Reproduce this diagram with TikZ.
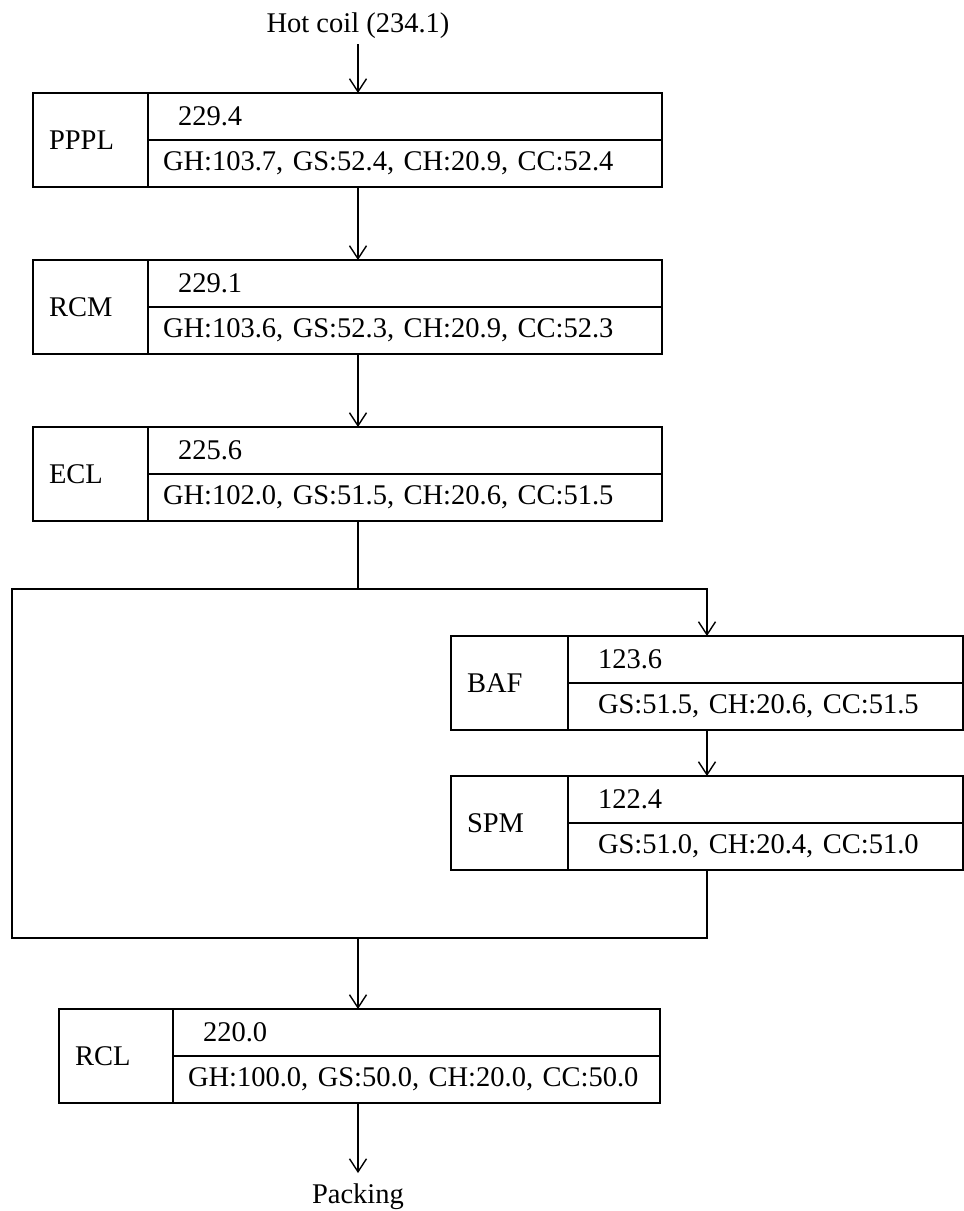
\documentclass[tikz,border=0pt]{standalone}
\usepackage{fontspec}
\setmainfont{Liberation Serif}
\usetikzlibrary{arrows.meta,positioning,calc}

\begin{document}
\begin{tikzpicture}[
  x=1pt,y=-1pt,
  font=\fontsize{28.5}{34}\selectfont,
  cellbase/.style={draw,line width=1.4pt,anchor=north west,align=left,
               inner ysep=0pt,outer sep=0pt},
  namecell/.style={cellbase,inner xsep=16pt,text width=#1,
               minimum height=94pt},
  valcell/.style={cellbase,inner xsep=30pt,text width=#1,
               minimum height=47pt},
  compcell/.style={cellbase,inner xsep=15pt,text width=#1,
               minimum height=47pt},
  flow/.style={line width=1.4pt},
  arr/.style={flow,-{Straight Barb[length=13pt,width=17pt,line width=1.4pt]}}
]
\useasboundingbox (0,0) rectangle (964,1211);

% input and output
\node[anchor=base,inner ysep=6pt] (coil) at (358,32) {Hot coil (234.1)};
\node[anchor=base,inner ysep=10pt] (packing) at (358,1203) {Packing};

% main line
\node[namecell=83pt] (pppl) at (33,93) {PPPL};
\node[valcell=454pt] (pppl-v) at (pppl.north east) {229.4};
\node[compcell=484pt] (pppl-c) at (pppl-v.south west)
  {GH:103.7, GS:52.4, CH:20.9, CC:52.4};

\node[namecell=83pt] (rcm) at (33,260) {RCM};
\node[valcell=454pt] (rcm-v) at (rcm.north east) {229.1};
\node[compcell=484pt] (rcm-c) at (rcm-v.south west)
  {GH:103.6, GS:52.3, CH:20.9, CC:52.3};

\node[namecell=83pt] (ecl) at (33,427) {ECL};
\node[valcell=454pt] (ecl-v) at (ecl.north east) {225.6};
\node[compcell=484pt] (ecl-c) at (ecl-v.south west)
  {GH:102.0, GS:51.5, CH:20.6, CC:51.5};

% side branch
\node[namecell=85pt] (baf) at (451,636) {BAF};
\node[valcell=335pt] (baf-v) at (baf.north east) {123.6};
\node[compcell=335pt,inner xsep=30pt] (baf-c) at (baf-v.south west)
  {GS:51.5, CH:20.6, CC:51.5};

\node[namecell=85pt] (spm) at (451,776) {SPM};
\node[valcell=335pt] (spm-v) at (spm.north east) {122.4};
\node[compcell=335pt,inner xsep=30pt] (spm-c) at (spm-v.south west)
  {GS:51.0, CH:20.4, CC:51.0};

\node[namecell=82pt] (rcl) at (59,1009) {RCL};
\node[valcell=427pt] (rcl-v) at (rcl.north east) {220.0};
\node[compcell=457pt] (rcl-c) at (rcl-v.south west)
  {GH:100.0, GS:50.0, CH:20.0, CC:50.0};

% split and merge points
\coordinate (split) at (358,589);
\coordinate (merge) at (358,938);
\coordinate (branch) at (707,589);
\coordinate (join) at (707,938);
\coordinate (bypass-t) at (12,589);
\coordinate (bypass-b) at (12,938);

\draw[arr] (coil) -- (coil |- pppl-v.north);
\draw[arr] (pppl-c.south -| split) -- (rcm-v.north -| split);
\draw[arr] (rcm-c.south -| split) -- (ecl-v.north -| split);
\draw[flow] (ecl-c.south -| split) -- (split);
\draw[arr] (split) -- (branch) -- (baf-v.north -| branch);
\draw[arr] (baf-c.south -| branch) -- (spm-v.north -| branch);
\draw[flow] (spm-c.south -| join) -- (join) -- (merge);
\draw[flow] (split) -- (bypass-t) -- (bypass-b) -- (merge);
\draw[arr] (merge) -- (rcl-v.north -| merge);
\draw[arr] (rcl-c.south -| merge) -- (packing);
\end{tikzpicture}
\end{document}
